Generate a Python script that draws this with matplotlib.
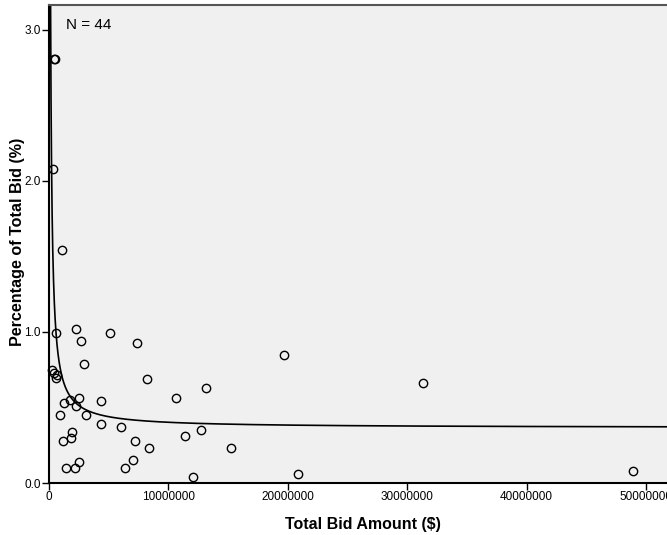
import numpy as np
import matplotlib.pyplot as plt

plt.rcParams['font.family'] = ['Liberation Sans', 'DejaVu Sans']

# total bid amount ($) and percentage of total bid (%)
bid_amount = [1.06e6, 2.24e6, 0.59e6, 5.11e6, 2.71e6, 7.38e6, 2.93e6, 0.25e6,
              0.45e6, 0.64e6, 0.56e6, 8.19e6, 13.16e6, 2.51e6, 1.76e6, 1.23e6,
              4.33e6, 10.65e6, 2.29e6, 0.92e6, 3.07e6, 4.33e6, 6.01e6, 12.74e6,
              1.95e6, 11.37e6, 1.84e6, 1.20e6, 7.21e6, 8.41e6, 15.26e6, 7.01e6,
              2.49e6, 1.40e6, 2.18e6, 6.34e6, 12.04e6, 19.67e6, 31.35e6, 20.87e6,
              48.9e6, 0.31e6, 0.50e6, 0.42e6]
bid_pct = [1.54, 1.02, 0.99, 0.99, 0.94, 0.93, 0.79, 0.75,
           0.73, 0.715, 0.695, 0.69, 0.63, 0.56, 0.55, 0.53,
           0.54, 0.56, 0.51, 0.45, 0.45, 0.39, 0.37, 0.35,
           0.34, 0.31, 0.30, 0.28, 0.28, 0.23, 0.23, 0.15,
           0.14, 0.10, 0.10, 0.10, 0.04, 0.85, 0.66, 0.06,
           0.08, 2.08, 2.81, 2.81]

# inverse model fit: y = b0 + b1 / x
b0 = 0.365
b1 = 0.37e6

x_ticks = [0, 10000000, 20000000, 30000000, 40000000, 50000000]
y_ticks = [0.0, 1.0, 2.0, 3.0]

fig = plt.figure(figsize=(6.67, 5.35), dpi=100)
ax = fig.add_axes([49 / 667, 52 / 535, 628 / 667, 478 / 535])
ax.set_facecolor('#f0f0f0')

xs = np.linspace(0.05e6, 53e6, 4000)
ax.plot(xs, b0 + b1 / xs, color='black', lw=1.2, zorder=2)
ax.plot(bid_amount, bid_pct, 'o', mfc='none', mec='black', ms=6, mew=1.0,
        zorder=3, clip_on=False)

ax.set_xlim(0, 52.6e6)
ax.set_ylim(0, 3.165)
ax.set_xticks(x_ticks)
ax.set_xticklabels([str(v) for v in x_ticks])
ax.set_yticks(y_ticks)
ax.set_yticklabels(['%.1f' % v for v in y_ticks])
ax.tick_params(direction='out', length=5, width=1, labelsize=8.5, pad=1)

for s in ['left', 'bottom']:
    ax.spines[s].set_linewidth(1.5)
ax.spines['top'].set_color('#555555')
ax.spines['top'].set_linewidth(1.5)
ax.spines['right'].set_visible(False)

ax.set_xlabel('Total Bid Amount ($)', fontsize=11.5, fontweight='bold', labelpad=10)
ax.set_ylabel('Percentage of Total Bid (%)', fontsize=11.6, fontweight='bold',
              va='center')
ax.yaxis.set_label_coords(17.5 / 667, 1 - 241.5 / 535, transform=fig.transFigure)

ax.text(66 / 667, 1 - 25 / 535, 'N = 44', transform=fig.transFigure,
        fontsize=11, va='center', ha='left')

fig.savefig('out.png', dpi=100)
